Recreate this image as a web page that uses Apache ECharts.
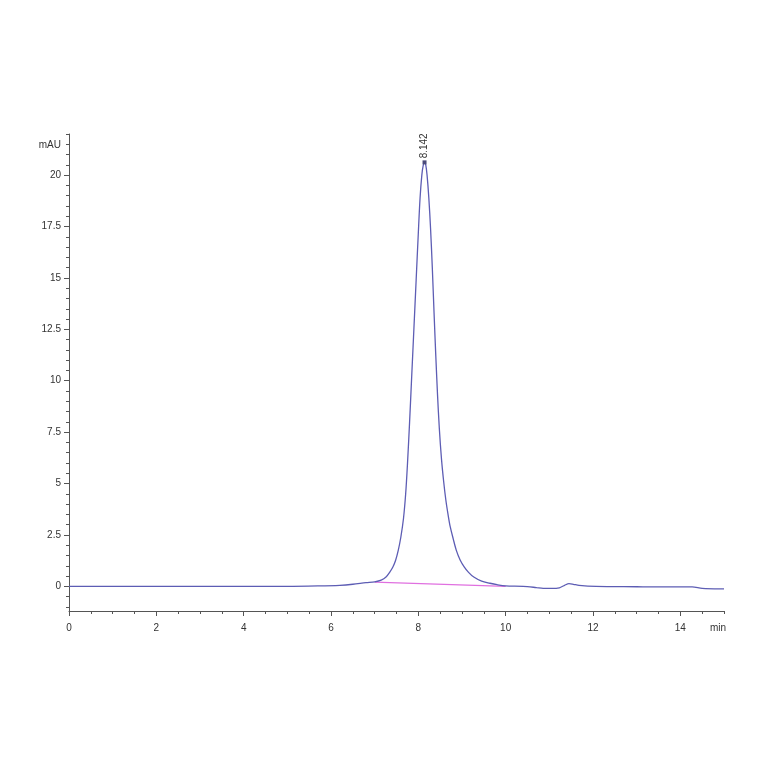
<!DOCTYPE html>
<html>
<head>
<meta charset="utf-8">
<script src="https://cdn.jsdelivr.net/npm/echarts@6/dist/echarts.min.js"></script>
<style>html,body{margin:0;padding:0;background:#fff;}#c{width:764px;height:764px;}</style>
</head>
<body>
<div id="c"></div>
<script>
// retention time (min)
const times = [0, 1, 2, 3, 4, 5, 5.7, 6.2, 6.5, 6.8, 7.0, 7.15, 7.26, 7.35, 7.42, 7.48, 7.54, 7.60, 7.66, 7.71, 7.75, 7.80, 7.85, 7.90, 7.95, 8.00, 8.04, 8.08, 8.11, 8.142, 8.17, 8.20, 8.24, 8.28, 8.32, 8.36, 8.40, 8.44, 8.48, 8.53, 8.58, 8.63, 8.68, 8.73, 8.80, 8.87, 8.96, 9.05, 9.15, 9.27, 9.45, 9.64, 9.8, 10.0, 10.4, 10.7, 10.86, 11.05, 11.23, 11.35, 11.45, 11.55, 11.68, 12.07, 13.0, 13.43, 14.27, 14.5, 14.9, 15.0];
// absorbance (mAU)
const signal = [0, 0, 0, 0, 0, 0, 0.02, 0.05, 0.1, 0.18, 0.22, 0.3, 0.45, 0.7, 0.95, 1.27, 1.75, 2.4, 3.3, 4.5, 5.9, 8.0, 10.3, 12.6, 14.9, 17.2, 18.9, 20.0, 20.45, 20.62, 20.5, 20.0, 18.9, 17.4, 15.5, 13.3, 11.2, 9.3, 7.7, 6.2, 5.1, 4.2, 3.5, 2.9, 2.3, 1.75, 1.27, 0.95, 0.68, 0.45, 0.25, 0.15, 0.08, 0.02, 0.0, -0.06, -0.1, -0.1, -0.07, 0.05, 0.13, 0.1, 0.05, 0.0, -0.02, -0.03, -0.03, -0.1, -0.12, -0.12];
// integration baseline
const baseTimes = [7.0, 10.0];
const baseValues = [0.2, 0.0];
// peak annotation
const peakTime = 8.142;
const peakValue = 20.62;
const peakLabel = '8.142';
// ticks
const xMajorTicks = [0, 2, 4, 6, 8, 10, 12, 14];
const xMinorTicks = [0.5,1,1.5,2.5,3,3.5,4.5,5,5.5,6.5,7,7.5,8.5,9,9.5,10.5,11,11.5,12.5,13,13.5,14.5,15];
const yMajorTicks = [0, 2.5, 5, 7.5, 10, 12.5, 15, 17.5, 20];
const yMinorTicks = [-1,-0.5,0.5,1,1.5,2,3,3.5,4,4.5,5.5,6,6.5,7,8,8.5,9,9.5,10.5,11,11.5,12,13,13.5,14,14.5,15.5,16,16.5,17,18,18.5,19,19.5,20.5,21,21.5,22];

const font = 'Liberation Sans';
const axisColor = '#555';
const mainData = times.map((t, i) => [t, signal[i]]);
const baseData = baseTimes.map((t, i) => [t, baseValues[i]]);

const chart = echarts.init(document.getElementById('c'), null, {renderer: 'canvas'});
chart.setOption({
  animation: false,
  backgroundColor: '#fff',
  grid: {left: 69, right: 40, top: 134, bottom: 153, containLabel: false},
  xAxis: [{
    type: 'value', min: 0, max: 15, position: 'bottom',
    name: 'min', nameLocation: 'end', nameGap: 2,
    nameTextStyle: {fontFamily: font, fontSize: 10, color: '#333', align: 'right', verticalAlign: 'top', padding: [12, 0, 0, 0]},
    axisLine: {show: true, onZero: false, lineStyle: {color: axisColor, width: 1}},
    axisTick: {show: true, customValues: xMajorTicks, length: 5, lineStyle: {color: axisColor}},
    axisLabel: {show: true, customValues: xMajorTicks, margin: 12, fontFamily: font, fontSize: 10, color: '#333'},
    splitLine: {show: false}
  }, {
    type: 'value', min: 0, max: 15, position: 'bottom',
    axisLine: {show: false, onZero: false},
    axisTick: {show: true, customValues: xMinorTicks, length: 3, lineStyle: {color: axisColor}},
    axisLabel: {show: false},
    splitLine: {show: false}
  }],
  yAxis: [{
    type: 'value', min: -1.2, max: 22, position: 'left',
    name: 'mAU', nameLocation: 'end', nameGap: -11,
    nameTextStyle: {fontFamily: font, fontSize: 10, color: '#333', align: 'right', verticalAlign: 'middle', padding: [0, 8, 0, 0]},
    axisLine: {show: true, onZero: false, lineStyle: {color: axisColor, width: 1}},
    axisTick: {show: true, customValues: yMajorTicks, length: 5, lineStyle: {color: axisColor}},
    axisLabel: {show: true, customValues: yMajorTicks, margin: 8, fontFamily: font, fontSize: 10, color: '#333'},
    splitLine: {show: false}
  }, {
    type: 'value', min: -1.2, max: 22, position: 'left',
    axisLine: {show: false, onZero: false},
    axisTick: {show: true, customValues: yMinorTicks, length: 3, lineStyle: {color: axisColor}},
    axisLabel: {show: false},
    splitLine: {show: false}
  }],
  series: [{
    type: 'line', xAxisIndex: 0, yAxisIndex: 0,
    data: baseData, showSymbol: false, symbol: 'none',
    lineStyle: {color: '#e070e0', width: 1.2}, z: 2
  }, {
    type: 'line', xAxisIndex: 0, yAxisIndex: 0,
    data: mainData, showSymbol: false, symbol: 'none',
    smooth: 0.3,
    lineStyle: {color: '#5d5db4', width: 1.3}, z: 3,
    markPoint: {
      symbol: 'rect', symbolSize: [4, 4], itemStyle: {color: '#4a4a7a'},
      data: [{coord: [peakTime, peakValue], value: peakLabel}],
      label: {show: true, formatter: peakLabel, rotate: 90, position: 'top', distance: 2,
        align: 'left', verticalAlign: 'middle', fontFamily: font, fontSize: 10, color: '#333'}
    }
  }]
});
</script>
</body>
</html>
